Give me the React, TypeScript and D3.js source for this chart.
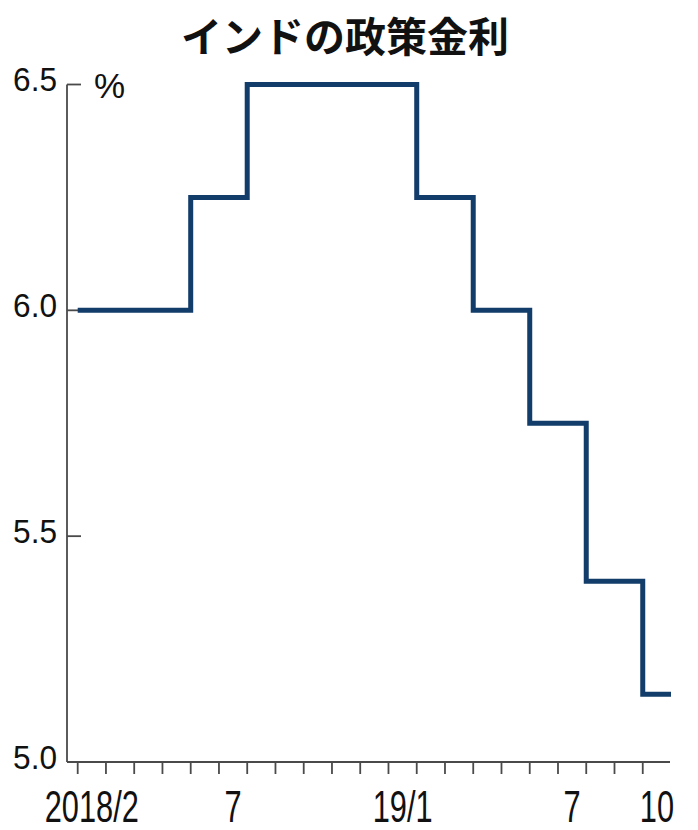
import React from "react";
import * as d3 from "d3";

const title = "インドの政策金利";
const unitLabel = "%";
const months = [
  "2018/2", "2018/3", "2018/4", "2018/5", "2018/6", "2018/7", "2018/8", "2018/9", "2018/10", "2018/11", "2018/12",
  "2019/1", "2019/2", "2019/3", "2019/4", "2019/5", "2019/6", "2019/7", "2019/8", "2019/9", "2019/10",
];
const rates = [
  6.0, 6.0, 6.0, 6.0, 6.25, 6.25, 6.5, 6.5, 6.5, 6.5, 6.5,
  6.5, 6.25, 6.25, 6.0, 6.0, 5.75, 5.75, 5.4, 5.4, 5.15,
];
const xTickLabels: [number, string][] = [
  [0, "2018/2"],
  [5, "7"],
  [11, "19/1"],
  [17, "7"],
  [20, "10"],
];
const yTicks = [5.0, 5.5, 6.0, 6.5];

const W = 698;
const H = 830;

export default function App() {
  const x = d3.scaleLinear().domain([0, months.length]).range([77.7, 671]);
  const y = d3.scaleLinear().domain([5.0, 6.5]).range([762, 84.5]);
  const axisX = 67;
  const axisY = y(5.0);

  const pts: [number, number][] = rates.map((r, i) => [i, r]);
  pts.push([months.length, rates[rates.length - 1]]);
  const line = d3
    .line<[number, number]>()
    .x((d) => x(d[0]))
    .y((d) => y(d[1]))
    .curve(d3.curveStepAfter);

  const axisColor = "#4a4a4a";
  const lineColor = "#123c6a";

  return (
    <svg
      width={W}
      height={H}
      style={{ position: "absolute", left: 0, top: 0, background: "#fff" }}
    >
      <text
        x={345}
        y={52}
        textAnchor="middle"
        fontFamily="'Noto Sans CJK JP', sans-serif"
        fontWeight={700}
        fontSize={41}
        fill="#111"
      >
        {title}
      </text>

      {/* y axis */}
      <line x1={axisX} x2={axisX} y1={y(6.5)} y2={axisY} stroke={axisColor} strokeWidth={1.8} />
      {yTicks.map((t) => (
        <g key={t}>
          <line x1={axisX} x2={axisX + 14} y1={y(t)} y2={y(t)} stroke={axisColor} strokeWidth={1.8} />
          <text
            x={0}
            y={0}
            transform={`translate(57,${y(t) + 6.5}) scale(0.93,1)`}
            textAnchor="end"
            fontFamily="'Liberation Sans', Arial, sans-serif"
            fontSize={34}
            fill="#111"
          >
            {t.toFixed(1)}
          </text>
        </g>
      ))}
      <text
        x={94}
        y={98}
        fontFamily="'Liberation Sans', Arial, sans-serif"
        fontSize={35}
        fill="#111"
      >
        {unitLabel}
      </text>

      {/* x axis */}
      <line x1={axisX} x2={x(months.length) - 1} y1={axisY} y2={axisY} stroke={axisColor} strokeWidth={1.8} />
      {months.map((m, i) => (
        <line key={m} x1={x(i)} x2={x(i)} y1={axisY} y2={axisY + 12} stroke={axisColor} strokeWidth={1.8} />
      ))}
      {xTickLabels.map(([i, lab]) => (
        <text
          key={i}
          x={0}
          y={0}
          transform={`translate(${x(i + 0.5)},822) scale(0.7,1)`}
          textAnchor="middle"
          fontFamily="'Liberation Sans', Arial, sans-serif"
          fontSize={44}
          fill="#111"
        >
          {lab}
        </text>
      ))}

      <path d={line(pts) ?? ""} fill="none" stroke={lineColor} strokeWidth={5} strokeLinejoin="miter" />
    </svg>
  );
}
